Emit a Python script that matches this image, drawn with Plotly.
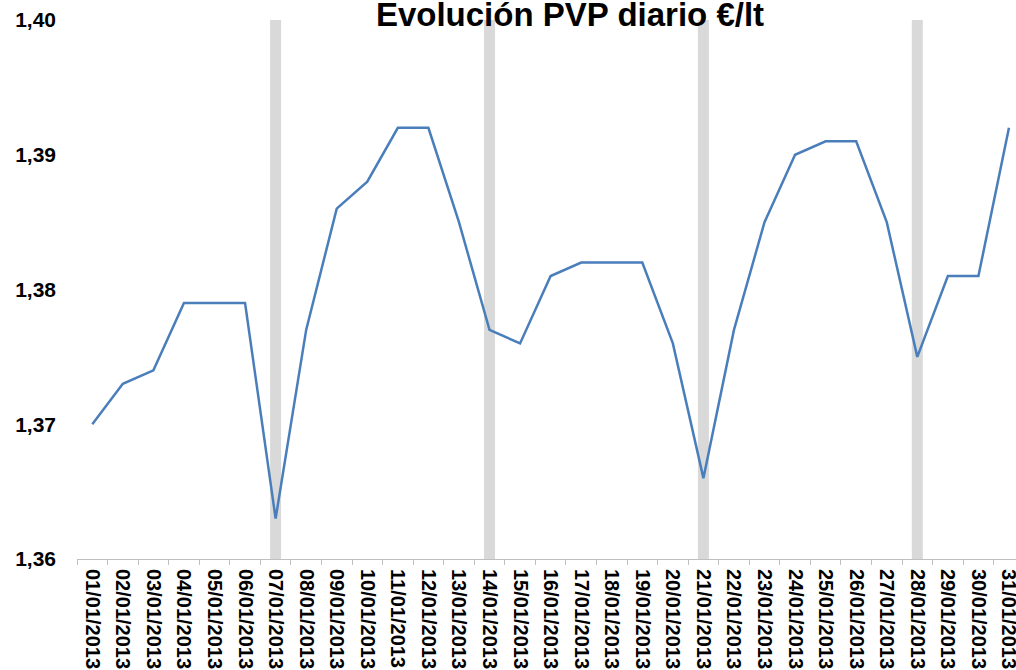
import plotly.graph_objects as go

dates = [f"{d:02d}/01/2013" for d in range(1, 32)]
pvp = [1.370, 1.373, 1.374, 1.379, 1.379, 1.379, 1.363, 1.377, 1.386, 1.388,
       1.392, 1.392, 1.385, 1.377, 1.376, 1.381, 1.382, 1.382, 1.382, 1.376,
       1.366, 1.377, 1.385, 1.390, 1.391, 1.391, 1.385, 1.375, 1.381, 1.381,
       1.392]
monday_dates = ["07/01/2013", "14/01/2013", "21/01/2013", "28/01/2013"]
monday_vals = [1.40, 1.40, 1.40, 1.40]
ytick_vals = [1.36, 1.37, 1.38, 1.39, 1.40]
ytick_text = ["1,36", "1,37", "1,38", "1,39", "1,40"]
title_text = "Evolución PVP diario €/lt"

FONT = "Liberation Sans, Arial, sans-serif"
W, H = 1016, 670

fig = go.Figure()
fig.add_trace(go.Bar(x=monday_dates, y=monday_vals, marker=dict(color="#d9d9d9", line=dict(width=0)),
                     showlegend=False, hoverinfo="skip"))
fig.add_trace(go.Scatter(x=dates, y=pvp, mode="lines", line=dict(color="#4a7ebb", width=2.5),
                         showlegend=False))

fig.update_layout(
    width=W, height=H,
    margin=dict(l=77, r=0, t=20, b=111),
    paper_bgcolor="white", plot_bgcolor="white",
    bargap=0.64,
    title=dict(text=title_text, x=570/W, xanchor="center", xref="container",
               y=1 - 14/H, yanchor="middle", yref="container",
               font=dict(family=FONT, size=33, color="black", weight="bold")),
    xaxis=dict(type="category", categoryorder="array", categoryarray=dates,
               range=[-0.5, 30.23], tickangle=90, showgrid=False,
               showline=True, linecolor="#bfbfbf", linewidth=1,
               ticks="outside", tickson="boundaries", ticklen=5, tickcolor="#bfbfbf",
               ticklabelstandoff=5,
               tickfont=dict(family=FONT, size=20, color="black", weight="bold"),
               automargin=False),
    yaxis=dict(range=[1.36, 1.40], tickvals=ytick_vals, ticktext=ytick_text,
               showgrid=False, zeroline=False, showline=False, ticks="",
               ticklabelstandoff=20,
               tickfont=dict(family=FONT, size=21, color="black", weight="bold"),
               automargin=False),
)

fig.write_html("out.html", config={"displayModeBar": False},
               post_script="document.body.style.margin='0';document.body.style.overflow='hidden';")
